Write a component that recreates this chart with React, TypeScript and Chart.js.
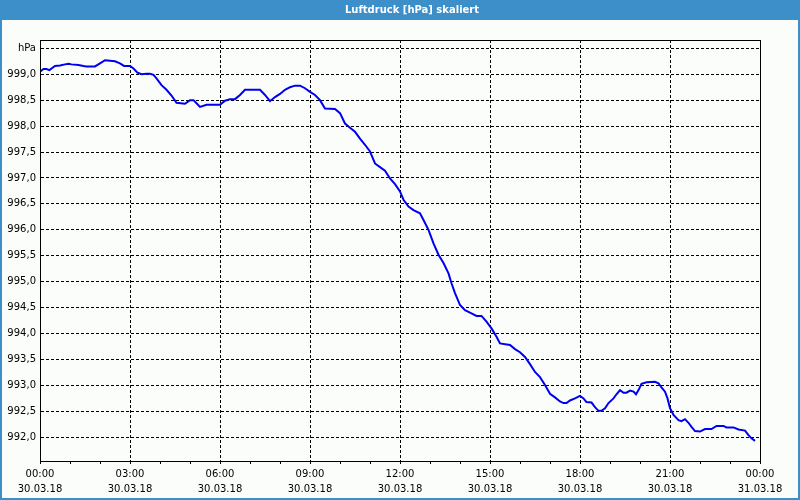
import React, { useEffect, useRef } from "react";
import { Chart, registerables } from "chart.js";

Chart.register(...registerables);

const TITLE = "Luftdruck [hPa] skaliert";
const Y_UNIT = "hPa";

// minutes since 30.03.18 00:00
const minutes = [
  0, 7, 13, 19, 23, 30, 40, 50, 57, 63, 77, 87, 93, 110, 120, 130, 140, 150, 160, 168,
  180, 187, 195, 203, 213, 220, 227, 233, 243, 253, 263, 273, 290, 300, 307, 313, 320, 333, 360, 370,
  380, 390, 400, 410, 440, 450, 460, 470, 480, 490, 500, 510, 520, 530, 540, 550, 560, 570, 590, 600,
  610, 620, 630, 640, 650, 660, 670, 680, 690, 700, 710, 720, 727, 737, 747, 760, 767, 777, 787, 797,
  807, 817, 823, 830, 840, 850, 863, 873, 883, 893, 903, 913, 920, 940, 950, 960, 970, 980, 990, 1000,
  1010, 1020, 1030, 1040, 1047, 1053, 1060, 1070, 1080, 1087, 1093, 1103, 1110, 1117, 1123, 1130, 1137, 1147, 1153, 1160,
  1167, 1173, 1180, 1187, 1192, 1197, 1203, 1213, 1230, 1237, 1243, 1250, 1255, 1260, 1267, 1277, 1283, 1290, 1297, 1303,
  1310, 1320, 1330, 1343, 1353, 1367, 1373, 1387, 1397, 1410, 1417, 1423, 1430,
];

// pressure in hPa
const pressure = [
  999.05, 999.10, 999.10, 999.08, 999.11, 999.16, 999.17, 999.19, 999.20, 999.19, 999.18, 999.16, 999.15, 999.15, 999.21, 999.27, 999.26, 999.25, 999.21, 999.16,
  999.16, 999.11, 999.03, 999.00, 999.01, 999.01, 998.99, 998.92, 998.79, 998.70, 998.59, 998.45, 998.43, 998.50, 998.50, 998.44, 998.37, 998.41, 998.41, 998.49,
  998.52, 998.52, 998.60, 998.70, 998.70, 998.60, 998.48, 998.56, 998.62, 998.70, 998.75, 998.78, 998.78, 998.73, 998.66, 998.60, 998.50, 998.34, 998.33, 998.25,
  998.05, 997.97, 997.89, 997.76, 997.64, 997.51, 997.28, 997.21, 997.14, 996.99, 996.88, 996.74, 996.58, 996.45, 996.38, 996.32, 996.19, 996.00, 995.74, 995.52,
  995.36, 995.16, 994.97, 994.78, 994.55, 994.45, 994.39, 994.34, 994.34, 994.23, 994.10, 993.94, 993.81, 993.78, 993.70, 993.64, 993.55, 993.41, 993.26, 993.16,
  993.01, 992.84, 992.77, 992.69, 992.66, 992.66, 992.71, 992.75, 992.80, 992.75, 992.68, 992.67, 992.58, 992.51, 992.51, 992.56, 992.66, 992.75, 992.83, 992.91,
  992.86, 992.86, 992.90, 992.88, 992.83, 992.91, 993.03, 993.06, 993.07, 993.04, 992.96, 992.88, 992.75, 992.56, 992.43, 992.33, 992.31, 992.35, 992.28, 992.20,
  992.12, 992.11, 992.16, 992.16, 992.22, 992.22, 992.19, 992.19, 992.15, 992.13, 992.04, 991.98, 991.93,
];

const yTicks = [992.0, 992.5, 993.0, 993.5, 994.0, 994.5, 995.0, 995.5, 996.0, 996.5, 997.0, 997.5, 998.0, 998.5, 999.0, 999.5];
const xTickTimes = ["00:00", "03:00", "06:00", "09:00", "12:00", "15:00", "18:00", "21:00", "00:00"];
const xTickDates = ["30.03.18", "30.03.18", "30.03.18", "30.03.18", "30.03.18", "30.03.18", "30.03.18", "30.03.18", "31.03.18"];

const FONT = "'DejaVu Sans', Tahoma, Verdana, sans-serif";

const framePlugin = {
  id: "frame",
  beforeDraw(chart: any) {
    const { ctx, width, height } = chart;
    ctx.save();
    ctx.fillStyle = "#fbfdfb";
    ctx.fillRect(0, 0, width, height);
    ctx.fillStyle = "#3c8fc8";
    ctx.fillRect(0, 0, width, 20);
    ctx.fillRect(0, 0, 2, height);
    ctx.fillRect(width - 2, 0, 2, height);
    ctx.fillRect(0, height - 2, width, 2);
    ctx.fillStyle = "#ffffff";
    ctx.font = "bold 10px " + FONT;
    ctx.textAlign = "center";
    ctx.textBaseline = "middle";
    ctx.fillText(TITLE, 412, 10.5);
    ctx.restore();
  },
  afterDatasetsDraw(chart: any) {
    const { ctx, chartArea } = chart;
    const l = Math.round(chartArea.left) + 0.5;
    const r = Math.round(chartArea.right) + 0.5;
    const t = Math.round(chartArea.top) + 0.5;
    const b = Math.round(chartArea.bottom) + 0.5;
    ctx.save();
    ctx.strokeStyle = "#000";
    ctx.lineWidth = 1;
    ctx.setLineDash([]);
    ctx.strokeRect(l, t, r - l, b - t);
    ctx.restore();
  },
};

export default function App() {
  const ref = useRef<HTMLCanvasElement | null>(null);
  useEffect(() => {
    if (!ref.current) return;
    const data = minutes.map((m, i) => ({ x: m, y: pressure[i] }));
    const chart = new Chart(ref.current, {
      type: "line",
      data: {
        datasets: [
          {
            data,
            borderColor: "#0000f0",
            borderWidth: 2,
            pointRadius: 0,
            tension: 0,
            fill: false,
          },
        ],
      },
      options: {
        animation: false,
        responsive: false,
        maintainAspectRatio: false,
        layout: { padding: { top: 40, right: 40, left: 0, bottom: 0 } },
        plugins: { legend: { display: false }, title: { display: false }, tooltip: { enabled: false } },
        scales: {
          x: {
            type: "linear",
            min: 0,
            max: 1440,
            afterBuildTicks: (scale: any) => {
              const t = [];
              for (let m = 0; m <= 1440; m += 60) t.push({ value: m });
              scale.ticks = t;
            },
            afterFit: (scale: any) => {
              scale.height = 39;
            },
            ticks: {
              autoSkip: false,
              maxRotation: 0,
              minRotation: 0,
              padding: 3,
              color: "#000",
              font: { family: FONT, size: 10, lineHeight: 1.5 },
              callback: (v: any) => {
                const n = Number(v);
                if (n % 180 !== 0) return "";
                const k = n / 180;
                return [xTickTimes[k], xTickDates[k]];
              },
            },
            grid: {
              color: (c: any) => {
                const v = c.tick ? c.tick.value : 0;
                return v % 180 === 0 && v !== 0 && v !== 1440 ? "#000" : "rgba(0,0,0,0)";
              },
              tickColor: "#000",
              tickLength: 3,
              drawTicks: true,
              lineWidth: 1,
              tickBorderDash: [],
            } as any,
            border: { display: true, color: "#000", width: 1, dash: [3, 2] },
          },
          y: {
            type: "linear",
            min: 991.543,
            max: 999.66,
            afterBuildTicks: (scale: any) => {
              scale.ticks = yTicks.map((v) => ({ value: v }));
            },
            afterFit: (scale: any) => {
              scale.width = 40;
            },
            ticks: {
              padding: 4,
              color: "#000",
              font: { family: FONT, size: 10 },
              callback: (v: any) => {
                const n = Number(v);
                if (Math.abs(n - 999.5) < 1e-6) return Y_UNIT;
                return n.toFixed(1).replace(".", ",");
              },
            },
            grid: {
              color: "#000",
              lineWidth: 1,
              drawTicks: false,
            } as any,
            border: { display: true, color: "#000", width: 1, dash: [3, 2] },
          },
        },
      } as any,
      plugins: [framePlugin],
    });
    return () => chart.destroy();
  }, []);
  return (
    <div style={{ position: "fixed", left: 0, top: 0, width: 800, height: 500 }}>
      <canvas ref={ref} width={800} height={500} style={{ display: "block", width: 800, height: 500 }} />
    </div>
  );
}
